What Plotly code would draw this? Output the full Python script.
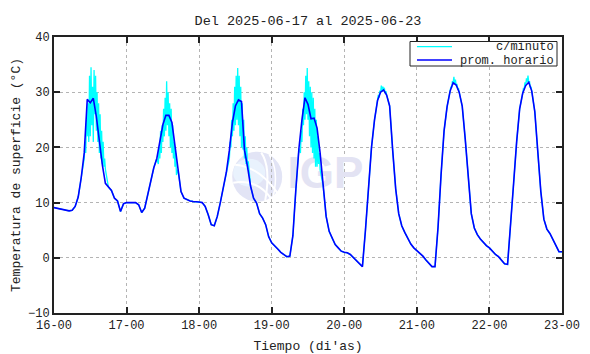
import pandas as pd
import plotly.graph_objects as go

# ---- data ----
start = "2025-06-16 00:00"
tick_labels = ["16-00", "17-00", "18-00", "19-00", "20-00", "21-00", "22-00", "23-00"]

d16 = [9.1, 9.0, 8.9, 8.8, 8.7, 8.5, 8.6, 9.3, 11.0, 14.5, 19.0, 28.7, 28.1, 28.9, 25.6, 21.0, 16.8, 13.5, 12.8, 12.2, 10.8, 10.3, 8.4, 9.8]
d17 = [10.0, 10.0, 10.0, 10.0, 9.6, 8.2, 9.0, 11.5, 14.0, 16.3, 18.0, 21.0, 24.1, 25.8, 25.8, 24.5, 20.5, 16.0, 12.0, 10.8, 10.5, 10.3, 10.2, 10.2]
d18 = [10.1, 10.0, 9.3, 7.8, 6.0, 5.8, 7.5, 10.0, 12.8, 15.5, 19.5, 24.5, 27.5, 28.6, 28.3, 19.5, 16.5, 13.0, 10.8, 9.9, 8.0, 7.2, 6.0, 3.8]
d19 = [2.7, 2.2, 1.6, 1.0, 0.6, 0.2, 0.3, 4.0, 12.5, 19.8, 25.0, 29.0, 27.8, 25.2, 25.3, 23.5, 19.0, 13.0, 7.5, 4.8, 3.5, 2.4, 1.8, 1.2]
d20 = [1.0, 0.9, 0.6, 0.0, -0.6, -1.2, -1.6, 5.0, 13.5, 20.0, 25.0, 28.5, 30.0, 30.4, 29.5, 27.5, 19.5, 12.5, 8.0, 5.8, 4.6, 3.5, 2.5, 1.8]
d21 = [1.3, 0.9, 0.3, -0.4, -1.1, -1.6, -1.6, 5.5, 15.0, 23.0, 27.4, 30.2, 31.7, 31.3, 30.0, 27.5, 21.5, 14.5, 8.0, 5.4, 4.2, 3.4, 2.7, 2.2]
d22 = [1.8, 1.1, 0.6, 0.2, -0.5, -1.1, -1.2, 5.5, 13.5, 21.0, 27.0, 29.8, 31.2, 31.8, 30.2, 26.5, 19.0, 12.0, 7.0, 5.2, 4.4, 3.3, 2.0, 1.1]
d23 = [1.1]

# per-minute noisy stretches (hours from start, 15-min readings)
noisy_16_start = 10.0
noisy_16 = [18, 21, 19, 25, 22, 28, 21, 33, 22, 34.5, 24, 31, 21, 34, 26, 33, 23, 30, 21, 28, 19, 26, 18, 23, 17, 21, 16.5, 18, 16]
noisy_17_start = 24 + 10.5
noisy_17 = [17, 20, 18, 23, 19, 24, 21, 27, 22, 29, 23, 32, 24, 30, 22, 28, 20, 27, 19, 24, 18, 21, 16.5, 19, 15]
noisy_18_start = 48 + 10.0
noisy_18 = [18, 21, 20, 25, 22, 28, 23, 31, 24, 33, 25, 34.4, 24, 33, 22, 31, 20, 28, 19.6, 25, 18, 22, 17, 20, 16, 17.5, 15.5]
noisy_19_start = 72 + 9.5
noisy_19 = [19, 23, 21, 27, 24, 30, 25, 33, 26, 34.4, 25, 32, 22, 31, 20, 30, 19, 29, 18, 27, 16.5, 25, 16.5, 22, 17, 19, 16]
noisy_20_start = 96 + 11.0
noisy_20 = [28.5, 29.5, 29.0, 30.3, 30.0, 31.2, 30.2, 31.0, 30.4, 30.8, 29.8, 30.2, 29.5]
noisy_21_start = 120 + 11.0
noisy_21 = [30.2, 31.0, 30.8, 32.0, 31.7, 32.8, 31.5, 32.3, 31.3, 31.5, 30.5, 30.8, 30.0]
noisy_22_start = 144 + 11.0
noisy_22 = [29.8, 30.8, 30.5, 31.8, 31.2, 32.5, 31.8, 33.0, 31.8, 32.0, 30.8, 31.0, 30.2]

hourly = d16 + d17 + d18 + d19 + d20 + d21 + d22 + d23
t0 = pd.Timestamp(start)
hours = list(range(len(hourly)))
t_hourly = [t0 + pd.Timedelta(hours=h) for h in hours]

# build the per-minute series
windows = [(noisy_16_start, noisy_16), (noisy_17_start, noisy_17),
           (noisy_18_start, noisy_18), (noisy_19_start, noisy_19),
           (noisy_20_start, noisy_20), (noisy_21_start, noisy_21),
           (noisy_22_start, noisy_22)]
pts = []
for h, v in zip(hours, hourly):
    inside = any(s <= h <= s + 0.25 * (len(vals) - 1) for s, vals in windows)
    if not inside:
        pts.append((h, v))
for s, vals in windows:
    for i, v in enumerate(vals):
        pts.append((s + 0.25 * i, v))
pts.sort()
t_min = [t0 + pd.Timedelta(hours=p[0]) for p in pts]
v_min = [p[1] for p in pts]

tick_vals = [t0 + pd.Timedelta(days=i) for i in range(len(tick_labels))]

FONT = "Liberation Mono"
L, R, T, B = 54, 28, 37, 41
W, H = 590, 354
PW, PH = W - L - R, H - T - B


def px(x):
    return (x - L) / PW


def py(y):
    return (H - B - y) / PH


fig = go.Figure()

# watermark text (drawn first so lines go over it)
fig.add_trace(go.Scatter(
    x=[t0 + pd.Timedelta(hours=24 * 3.74)], y=[14.7], mode="text", text=["<b>IGP</b>"],
    textfont=dict(family="Liberation Sans", size=44, color="#e3e3f3"),
    showlegend=False, hoverinfo="skip"))

fig.add_trace(go.Scatter(
    x=t_min, y=v_min, mode="lines", name="c/minuto",
    line=dict(color="#00ffff", width=1.3), showlegend=False))
fig.add_trace(go.Scatter(
    x=t_hourly, y=hourly, mode="lines", name="prom. horario",
    line=dict(color="#0000ff", width=1.6), showlegend=False))

# watermark circle logo
anchor_x = t0 + pd.Timedelta(hours=24 * 2.8)
anchor_y = 14.7
wm = dict(xref="x", yref="y", xsizemode="pixel", ysizemode="pixel",
          xanchor=anchor_x, yanchor=anchor_y, layer="below")
shapes = [
    dict(type="circle", x0=-25, x1=25, y0=-25, y1=25,
         fillcolor="#e2e4f5", line=dict(width=0), **wm),
    dict(type="circle", x0=-24, x1=8, y0=-10, y1=18,
         fillcolor="#e9f2fd", line=dict(width=0), **wm),
    dict(type="path", path="M -24 -6 Q 0 -2 14 -22",
         line=dict(color="white", width=2), **wm),
    dict(type="path", path="M -22 12 Q 2 10 20 -16",
         line=dict(color="white", width=2), **wm),
    dict(type="path", path="M 4 24 Q 14 10 8 -24",
         line=dict(color="white", width=2), **wm),
    dict(type="path", path="M 12 22 Q 22 6 16 -20",
         line=dict(color="white", width=1.5), **wm),
]

# legend drawn by hand (box, line samples)
shapes += [
    dict(type="rect", xref="paper", yref="paper", x0=px(410), x1=px(557), y0=py(66), y1=py(41.5),
         fillcolor="white", line=dict(color="#222222", width=1), layer="above"),
    dict(type="line", xref="paper", yref="paper", x0=px(417), x1=px(452), y0=py(46.7), y1=py(46.7),
         line=dict(color="#00ffff", width=1.3), layer="above"),
    dict(type="line", xref="paper", yref="paper", x0=px(417), x1=px(452), y0=py(60), y1=py(60),
         line=dict(color="#0000ff", width=1.6), layer="above"),
]
annotations = [
    dict(text="c/minuto", xref="paper", yref="paper", x=px(556), y=py(47.5),
         xanchor="right", yanchor="middle", showarrow=False,
         font=dict(family=FONT, size=12, color="#222222")),
    dict(text="prom. horario", xref="paper", yref="paper", x=px(556), y=py(61),
         xanchor="right", yanchor="middle", showarrow=False,
         font=dict(family=FONT, size=12, color="#222222")),
]

fig.update_layout(
    width=W, height=H,
    margin=dict(l=L, r=R, t=T, b=B),
    paper_bgcolor="white", plot_bgcolor="white",
    font=dict(family=FONT, size=12, color="#222222"),
    title=dict(text="Del 2025-06-17 al 2025-06-23", xref="paper", x=0.5, xanchor="center",
               yref="container", y=1 - 20 / H, yanchor="middle",
               font=dict(family=FONT, size=13.5)),
    shapes=shapes, annotations=annotations,
    showlegend=False,
)

fig.update_xaxes(
    type="date", range=[tick_vals[0], tick_vals[-1]], automargin=False,
    tickvals=tick_vals, ticktext=tick_labels,
    ticks="inside", ticklen=6, tickwidth=1.5, tickcolor="#222222",
    showline=True, linecolor="#222222", linewidth=2, mirror="ticks",
    showgrid=True, gridcolor="#b4b4b4", griddash="dot", gridwidth=1,
    zeroline=False,
    title=dict(text="Tiempo (di'as)", font=dict(family=FONT, size=13), standoff=8),
    tickfont=dict(family=FONT, size=12),
)
fig.update_yaxes(
    range=[-10, 40], tickvals=[-10, 0, 10, 20, 30, 40], automargin=False,
    ticks="inside", ticklen=6, tickwidth=1.5, tickcolor="#222222",
    showline=True, linecolor="#222222", linewidth=2, mirror="ticks",
    showgrid=True, gridcolor="#b4b4b4", griddash="dot", gridwidth=1,
    zeroline=False,
    title=dict(text="Temperatura de superficie (°C)", font=dict(family=FONT, size=13), standoff=4),
    tickfont=dict(family=FONT, size=12),
)

fig.write_html("out.html")
